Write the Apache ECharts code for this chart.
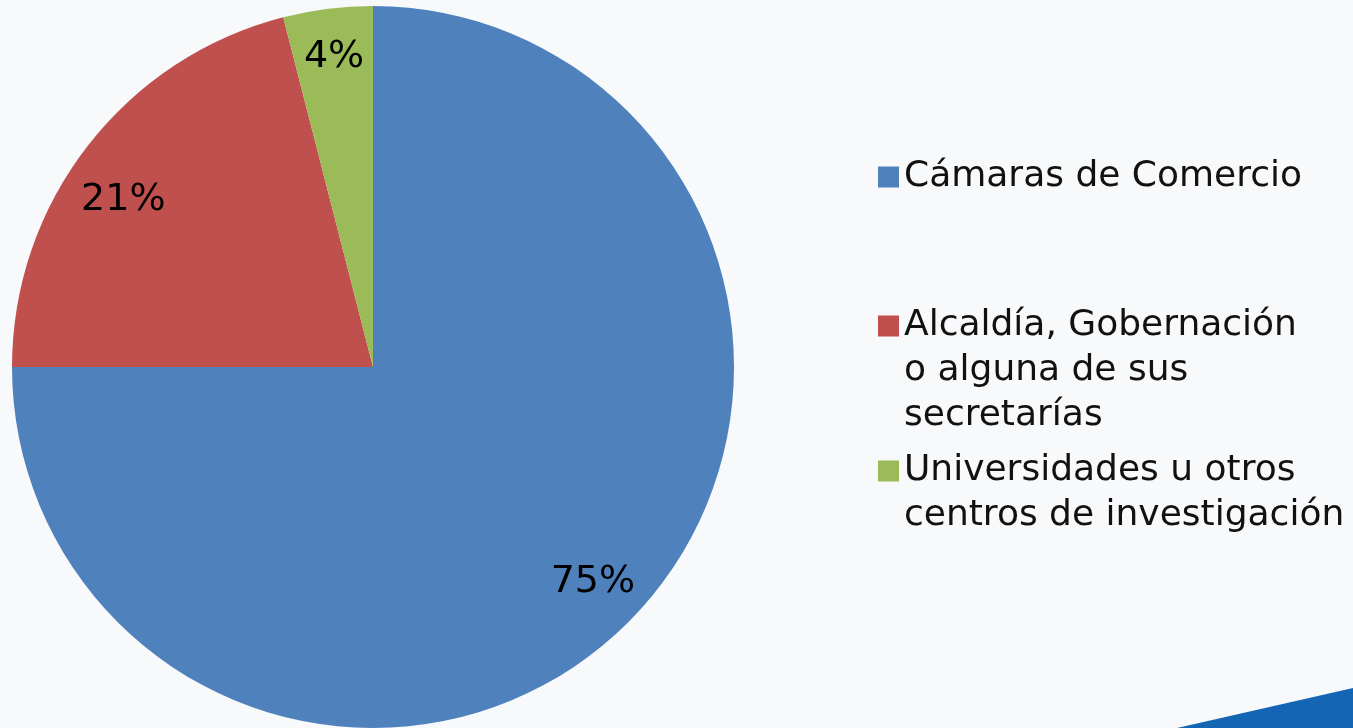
<!DOCTYPE html>
<html><head><meta charset="utf-8">
<style>html,body{margin:0;padding:0;background:#F8F9FB;}#c{width:1353px;height:728px;}</style>
<script src="https://cdn.jsdelivr.net/npm/echarts@6/dist/echarts.min.js"></script>
</head><body><div id="c"></div>
<script>
const categories = ['Cámaras de Comercio', 'Alcaldía, Gobernación o alguna de sus secretarías', 'Universidades u otros centros de investigación'];
const legendLines = [['Cámaras de Comercio'], ['Alcaldía, Gobernación', 'o alguna de sus', 'secretarías'], ['Universidades u otros', 'centros de investigación']];
const values = [75, 21, 4];
const colors = ['#4F81BD', '#C0504D', '#9BBB59'];

const chart = echarts.init(document.getElementById('c'));
const data = categories.map((n, i) => ({ name: n, value: values[i], itemStyle: { color: colors[i] } }));
const FONT = 'DejaVu Sans';
const LH = 45;
const iconCenters = [172, 321, 466];
const labelOffsets = [[0, -5], [-4, 24], [0, -1]];
const legends = categories.map((n, i) => {
  const nl = legendLines[i].length;
  const blanks = new Array(nl - 1).fill(' ');
  return {
    data: [n], left: 873, top: iconCenters[i] - (2 * nl - 1) * LH / 2, orient: 'vertical',
    itemWidth: 21, itemHeight: 21, itemGap: 0, selectedMode: false,
    icon: 'rect',
    formatter: () => blanks.concat(legendLines[i]).join('\n'),
    textStyle: { fontFamily: FONT, fontSize: 36, color: '#111', lineHeight: LH }
  };
});
chart.setOption({
  backgroundColor: '#F8F9FB',
  animation: false,
  graphic: [{ type: 'polygon', shape: { points: [[1177, 728], [1353, 688], [1353, 728]] }, style: { fill: '#1565B5' }, silent: true }],
  legend: legends,
  series: [{
    type: 'pie', center: [373, 367], radius: [0, 361], startAngle: 90, clockwise: true,
    data: data, label: { show: false }, labelLine: { show: false }, silent: true,
    itemStyle: { borderWidth: 0 }
  }, {
    type: 'pie', center: [373, 367], radius: [255, 361], startAngle: 90, clockwise: true,
    data: categories.map((n, i) => ({ name: n, value: values[i], label: { offset: labelOffsets[i] } })),
    itemStyle: { color: 'rgba(0,0,0,0)', borderWidth: 0 }, silent: true,
    label: { show: true, position: 'inside', formatter: '{c}%', fontFamily: FONT, fontSize: 38, color: '#000' },
    labelLine: { show: false }
  }]
});
</script></body></html>
